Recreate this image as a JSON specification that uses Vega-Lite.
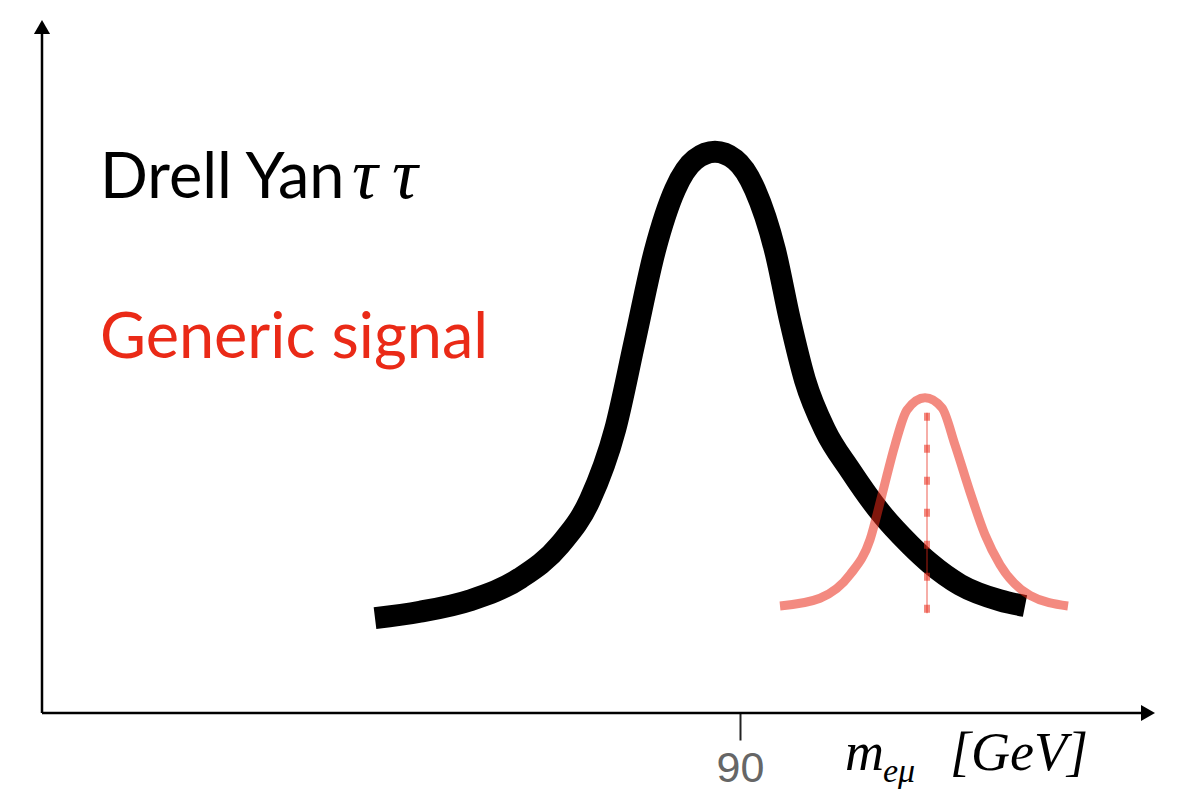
{
  "$schema": "https://vega.github.io/schema/vega-lite/v6.json",
  "width": 1204,
  "height": 792,
  "autosize": "none",
  "padding": 0,
  "background": "white",
  "config": {"view": {"stroke": null}},
  "datasets": {
    "drellyan": [
      {"m": 53.5, "y": 13.3}, {"m": 58.0, "y": 14.2}, {"m": 63.0, "y": 15.8}, {"m": 68.0, "y": 18.9},
      {"m": 72.0, "y": 23.6}, {"m": 75.0, "y": 29.9}, {"m": 77.5, "y": 39.7}, {"m": 79.5, "y": 52.3},
      {"m": 81.5, "y": 64.9}, {"m": 83.5, "y": 73.4}, {"m": 85.5, "y": 77.6}, {"m": 87.5, "y": 78.7},
      {"m": 89.5, "y": 77.6}, {"m": 91.5, "y": 73.4}, {"m": 93.5, "y": 64.9}, {"m": 95.0, "y": 55.1},
      {"m": 96.5, "y": 46.7}, {"m": 98.5, "y": 39.7}, {"m": 101.0, "y": 34.1}, {"m": 104.0, "y": 28.2},
      {"m": 107.0, "y": 23.6}, {"m": 109.0, "y": 21.0}, {"m": 112.0, "y": 18.0}, {"m": 116.0, "y": 15.8},
      {"m": 118.5, "y": 15.0}
    ],
    "signal": [
      {"m": 94.0, "y": 15.0}, {"m": 98.0, "y": 16.1}, {"m": 101.0, "y": 19.4}, {"m": 103.0, "y": 24.3},
      {"m": 104.2, "y": 30.6}, {"m": 105.5, "y": 37.6}, {"m": 106.7, "y": 42.5}, {"m": 108.5, "y": 44.2},
      {"m": 110.2, "y": 42.8}, {"m": 111.5, "y": 37.6}, {"m": 113.0, "y": 31.0}, {"m": 114.5, "y": 25.0},
      {"m": 116.0, "y": 20.8}, {"m": 119.0, "y": 16.5}, {"m": 122.8, "y": 15.0}
    ]
  },
  "layer": [
    {
      "data": {"values": [{"m": 20.2, "m2": 130.6, "y": 0}]},
      "mark": {"type": "rule", "color": "black", "strokeWidth": 2.5},
      "encoding": {
        "x": {"field": "m", "type": "quantitative", "scale": {"domain": [16, 136.4], "nice": false, "zero": false},
              "axis": {"orient": "bottom", "offset": -79, "domain": false, "values": [90], "tickSize": 27, "tickWidth": 2, "tickColor": "#222", "labelFontSize": 43, "labelFont": "Liberation Sans", "labelColor": "#666", "labelPadding": 7, "grid": false, "title": null}},
        "x2": {"field": "m2"},
        "y": {"field": "y", "type": "quantitative", "scale": {"domain": [-11.08, 100], "nice": false, "zero": false}, "axis": null}
      }
    },
    {
      "data": {"values": [{"m": 20.2, "y": 0, "y2": 95.5}]},
      "mark": {"type": "rule", "color": "black", "strokeWidth": 2.5},
      "encoding": {
        "x": {"field": "m", "type": "quantitative"},
        "y": {"field": "y", "type": "quantitative"},
        "y2": {"field": "y2"}
      }
    },
    {
      "data": {"values": [{"m": 130.8, "y": 0, "dir": "triangle-right"}, {"m": 20.2, "y": 96.2, "dir": "triangle-up"}]},
      "mark": {"type": "point", "filled": true, "color": "black", "opacity": 1, "size": 260},
      "encoding": {
        "x": {"field": "m", "type": "quantitative"},
        "y": {"field": "y", "type": "quantitative"},
        "shape": {"field": "dir", "type": "nominal", "scale": {"domain": ["triangle-right", "triangle-up"], "range": ["triangle-right", "triangle-up"]}, "legend": null}
      }
    },
    {
      "data": {"name": "drellyan"},
      "mark": {"type": "line", "color": "black", "strokeWidth": 22, "strokeCap": "butt", "strokeJoin": "round", "interpolate": "monotone"},
      "encoding": {
        "x": {"field": "m", "type": "quantitative"},
        "y": {"field": "y", "type": "quantitative"}
      }
    },
    {
      "data": {"name": "signal"},
      "mark": {"type": "line", "color": "#ea2a17", "opacity": 0.55, "strokeWidth": 9, "strokeCap": "butt", "strokeJoin": "round", "interpolate": "monotone"},
      "encoding": {
        "x": {"field": "m", "type": "quantitative"},
        "y": {"field": "y", "type": "quantitative"}
      }
    },
    {
      "data": {"values": [{"m": 108.7, "y": 42.1, "y2": 14.0}]},
      "mark": {"type": "rule", "color": "#ea2a17", "opacity": 0.5, "strokeWidth": 1.5},
      "encoding": {
        "x": {"field": "m", "type": "quantitative"},
        "y": {"field": "y", "type": "quantitative"},
        "y2": {"field": "y2"}
      }
    },
    {
      "data": {"values": [{"m": 108.7, "y": 42.1, "y2": 14.0}]},
      "mark": {"type": "rule", "color": "#ea2a17", "opacity": 0.55, "strokeWidth": 6, "strokeDash": [8, 24]},
      "encoding": {
        "x": {"field": "m", "type": "quantitative"},
        "y": {"field": "y", "type": "quantitative"},
        "y2": {"field": "y2"}
      }
    },
    {
      "data": {"values": [
        {"m": 26.0, "y": 72.2, "t": "Drell Yan", "c": "black"},
        {"m": 26.0, "y": 49.8, "t": "Generic signal", "c": "#ea2a17"}
      ]},
      "mark": {"type": "text", "align": "left", "baseline": "alphabetic", "font": "Lato", "fontSize": 63},
      "encoding": {
        "x": {"field": "m", "type": "quantitative"},
        "y": {"field": "y", "type": "quantitative"},
        "text": {"field": "t"},
        "color": {"field": "c", "type": "nominal", "scale": null}
      }
    },
    {
      "data": {"values": [
        {"m": 51.2, "y": 72.2, "t": "τ", "z": 72},
        {"m": 55.2, "y": 72.2, "t": "τ", "z": 72},
        {"m": 100.5, "y": -8.0, "t": "m", "z": 54},
        {"m": 104.3, "y": -9.7, "t": "eμ", "z": 34},
        {"m": 111.0, "y": -8.0, "t": "[GeV]", "z": 54}
      ]},
      "mark": {"type": "text", "align": "left", "baseline": "alphabetic", "font": "Liberation Serif", "fontStyle": "italic", "color": "black"},
      "encoding": {
        "x": {"field": "m", "type": "quantitative"},
        "y": {"field": "y", "type": "quantitative"},
        "text": {"field": "t"},
        "size": {"field": "z", "type": "quantitative", "scale": null}
      }
    }
  ]
}
